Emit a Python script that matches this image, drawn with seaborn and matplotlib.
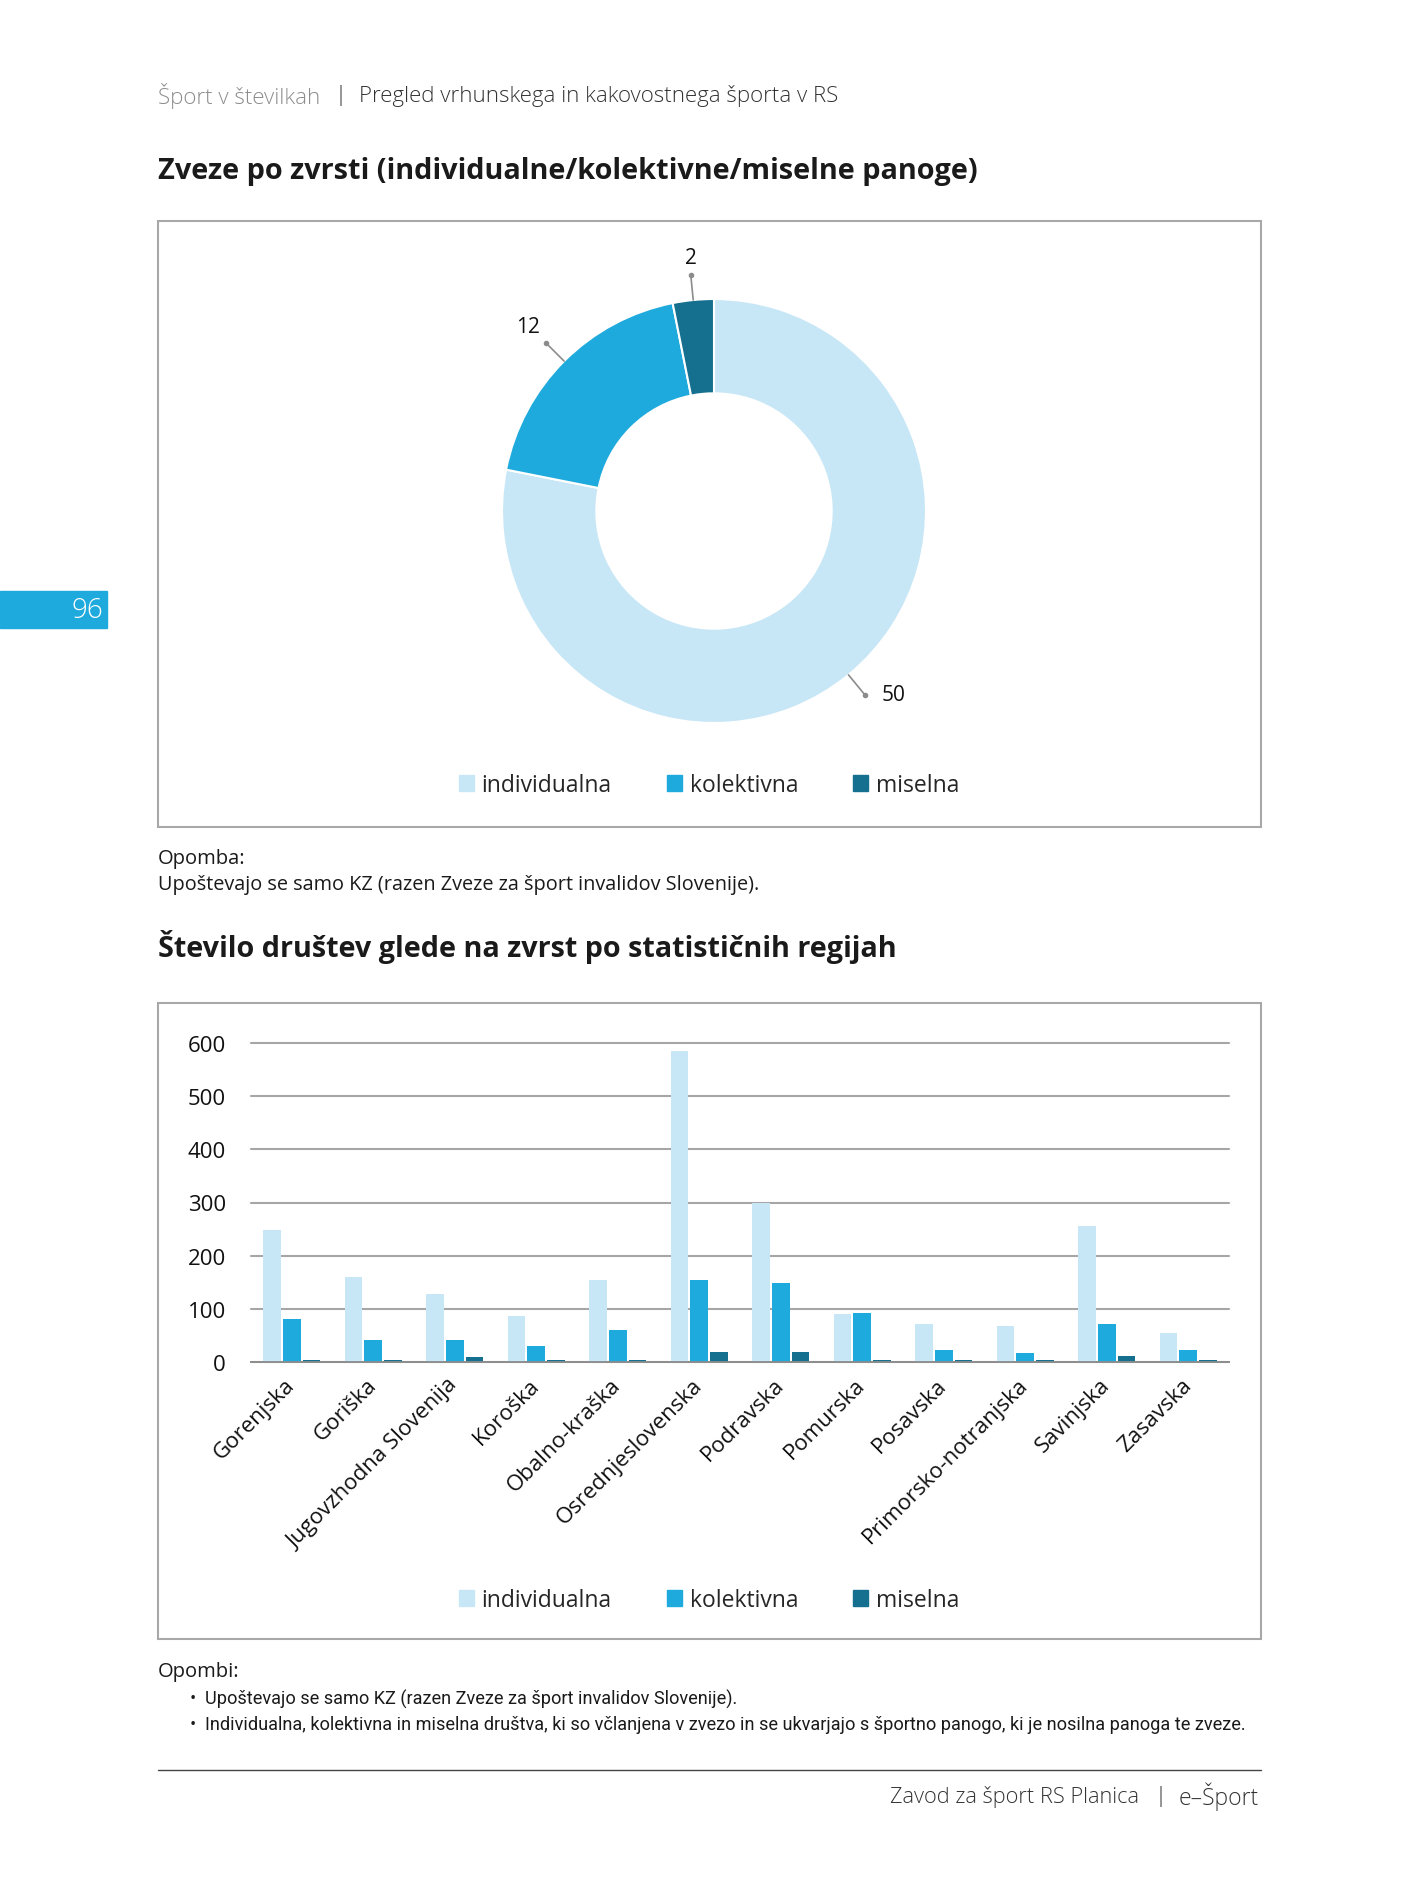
import numpy as np
import pandas as pd
import matplotlib.pyplot as plt
from matplotlib.patches import Rectangle
from matplotlib.lines import Line2D
import seaborn as sns

# === Data ===
zvrsti = ["individualna", "kolektivna", "miselna"]
zveze = [50, 12, 2]

regije = ["Gorenjska", "Goriška", "Jugovzhodna Slovenija", "Koroška", "Obalno-kraška",
          "Osrednjeslovenska", "Podravska", "Pomurska", "Posavska",
          "Primorsko-notranjska", "Savinjska", "Zasavska"]
individualna = [248, 159, 128, 86, 154, 585, 299, 91, 72, 67, 255, 55]
kolektivna = [81, 42, 42, 30, 60, 154, 148, 92, 23, 16, 72, 23]
miselna = [4, 4, 10, 4, 4, 18, 18, 3, 3, 3, 11, 3]
y_ticks = [0, 100, 200, 300, 400, 500, 600]

barve = ["#c8e7f6", "#1eaadc", "#156f8e"]

df = pd.DataFrame({
    "regija": regije * 3,
    "zvrst": [z for z in zvrsti for _ in regije],
    "stevilo": individualna + kolektivna + miselna,
})

# === Style ===
sns.set_theme(style="white")
plt.rcParams["font.family"] = ["Open Sans", "DejaVu Sans"]

W, H = 1418, 1890
fig = plt.figure(figsize=(W / 100, H / 100), dpi=100)

def fx(px):
    return px / W

def fy(py):
    return 1 - py / H

TXT = "#1a1a1a"

# === Page header / footer ===
fig.text(fx(158), fy(96), "Šport v številkah", fontsize=16, color="#8c8c8c",
         fontweight="light", va="center")
fig.text(fx(340), fy(96), "|", fontsize=16, color="#333333", fontweight="light",
         va="center", ha="center")
fig.text(fx(359), fy(96), "Pregled vrhunskega in kakovostnega športa v RS", fontsize=16,
         color="#333333", fontweight="light", va="center")

fig.text(fx(158), fy(172), "Zveze po zvrsti (individualne/kolektivne/miselne panoge)",
         fontsize=20.8, fontweight="bold", color=TXT, va="center")
fig.text(fx(158), fy(947), "Število društev glede na zvrst po statističnih regijah",
         fontsize=20.7, fontweight="bold", color=TXT, va="center")

# page tab
fig.patches.append(Rectangle((0, fy(629)), fx(107), fy(592) - fy(629),
                             transform=fig.transFigure, color="#1eaadc", zorder=0))
fig.text(fx(103), fy(611), "96", fontsize=20, color="white", fontweight="light",
         ha="right", va="center")

# chart frames
for top, bottom in [(222, 828), (1004, 1640)]:
    fig.patches.append(Rectangle((fx(158), fy(bottom)), fx(1261) - fx(158), fy(top) - fy(bottom),
                                 transform=fig.transFigure, fill=False,
                                 edgecolor="#a8a8a8", linewidth=1.5))

# notes
fig.text(fx(158), fy(859), "Opomba:", fontsize=14.5, color=TXT, va="center")
fig.text(fx(158), fy(885), "Upoštevajo se samo KZ (razen Zveze za šport invalidov Slovenije).",
         fontsize=14.3, color=TXT, va="center")
fig.text(fx(158), fy(1672), "Opombi:", fontsize=14.5, color=TXT, va="center")
fig.text(fx(190), fy(1699), "•", fontsize=12, color=TXT, va="center")
fig.text(fx(190), fy(1725), "•", fontsize=12, color=TXT, va="center")
narrow = ["Roboto", "DejaVu Sans"]
fig.text(fx(205), fy(1699), "Upoštevajo se samo KZ (razen Zveze za šport invalidov Slovenije).",
         fontsize=13.1, color=TXT, va="center", family=narrow)
fig.text(fx(205), fy(1725),
         "Individualna, kolektivna in miselna društva, ki so včlanjena v zvezo in se ukvarjajo "
         "s športno panogo, ki je nosilna panoga te zveze.",
         fontsize=13.1, color=TXT, va="center", family=narrow)

fig.add_artist(Line2D([fx(158), fx(1261)], [fy(1771), fy(1771)], transform=fig.transFigure,
                      color="#444444", linewidth=1))
fig.text(fx(890), fy(1797), "Zavod za šport RS Planica", fontsize=15.7, color="#333333",
         fontweight="light", va="center")
fig.text(fx(1161), fy(1797), "|", fontsize=16, color="#333333", fontweight="light",
         va="center", ha="center")
fig.text(fx(1259), fy(1797), "e–Šport", fontsize=16.5, color="#333333",
         fontweight="light", va="center", ha="right")

# === Donut chart ===
R = 212
ax1 = fig.add_axes([fx(714 - 1.1 * R), fy(512 + 1.1 * R), 2.2 * R / W, 2.2 * R / H])
wedges, _ = ax1.pie(zveze, colors=barve, startangle=90, counterclock=False, radius=1,
                    wedgeprops=dict(width=0.445, edgecolor="white", linewidth=1.5))
ax1.set_xlim(-1.1, 1.1)
ax1.set_ylim(-1.1, 1.1)
ax1.set_aspect("equal")
ax1.axis("off")

for w, val in zip(wedges, zveze):
    ang = np.deg2rad((w.theta1 + w.theta2) / 2)
    c, s = np.cos(ang), np.sin(ang)
    r_dot = 1.12
    ax1.plot([c, c * r_dot], [s, s * r_dot], color="#8c8c8c", lw=1.2, clip_on=False)
    ax1.plot(c * r_dot, s * r_dot, "o", color="#8c8c8c", ms=3, clip_on=False)
    if abs(c) < 0.3:
        ha, dx = "center", 0.0
    elif c > 0:
        ha, dx = "left", 0.08
    else:
        ha, dx = "right", -0.03
    va, dy = ("bottom", 0.03) if s > 0 else ("center", 0.0)
    ax1.text(c * r_dot + dx, s * r_dot + dy, str(val), fontsize=15, color="#111111",
             ha=ha, va=va)

handles = [Rectangle((0, 0), 1, 1, color=b) for b in barve]
leg_kw = dict(loc="center", ncol=3, frameon=False, fontsize=16.5, handlelength=0.65,
              handleheight=0.65, handletextpad=0.35, columnspacing=2.4)
fig.legend(handles, zvrsti, bbox_to_anchor=(fx(709), fy(786)), **leg_kw)

# === Bar chart ===
ax2 = fig.add_axes([fx(251), fy(1363), fx(1229) - fx(251), fy(1044) - fy(1363)])
sns.barplot(data=df, x="regija", y="stevilo", hue="zvrst", order=regije, hue_order=zvrsti,
            palette=barve, width=0.72, gap=0.1, linewidth=0,
            saturation=1, legend=False, ax=ax2)
ax2.set_xlim(-0.5, len(regije) - 0.5)
ax2.set_ylim(0, 600)
ax2.set_yticks(y_ticks)
ax2.set_xlabel("")
ax2.set_ylabel("")
ax2.yaxis.grid(True, color="#a6a6a6", linewidth=1.5, clip_on=False)
ax2.set_axisbelow(True)
for side in ["top", "right", "left"]:
    ax2.spines[side].set_visible(False)
ax2.spines["bottom"].set_color("#8c8c8c")
ax2.spines["bottom"].set_linewidth(1.3)
ax2.tick_params(axis="y", length=0, pad=18, labelsize=16, labelcolor="#111111")
ax2.tick_params(axis="x", which="major", length=0, pad=14, labelsize=16, labelcolor="#111111")
ax2.set_xticks(np.arange(len(regije) + 1) - 0.5, minor=True)
ax2.tick_params(axis="x", which="minor", length=9, width=1.2, color="#8c8c8c", direction="out")
ax2.set_xticks(range(len(regije)))
ax2.set_xticklabels(regije, rotation=45, ha="right", va="center", rotation_mode="anchor")

fig.legend(handles, zvrsti, bbox_to_anchor=(fx(709), fy(1601)), **leg_kw)

fig.savefig("out.png", dpi=100, facecolor="white")
